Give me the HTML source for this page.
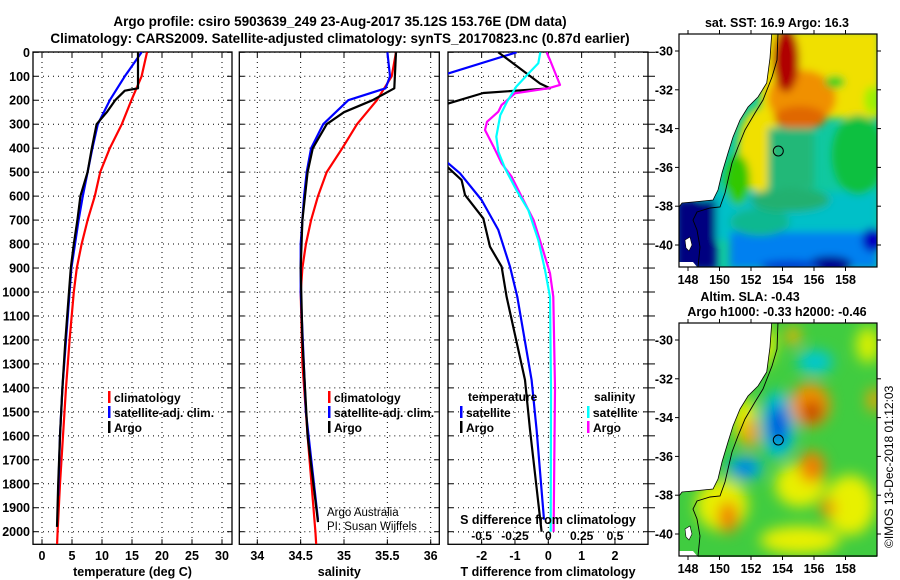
<!DOCTYPE html>
<html><head><meta charset="utf-8"><style>
html,body{margin:0;padding:0;background:#fff;}
svg{display:block;font-family:"Liberation Sans",Arial,sans-serif;}
</style></head><body>
<svg id="chart" width="900" height="580" viewBox="0 0 900 580" xmlns="http://www.w3.org/2000/svg">
<defs>
<clipPath id="c1"><rect x="33" y="52" width="199" height="492"/></clipPath>
<clipPath id="c2"><rect x="239.3" y="52" width="200" height="492"/></clipPath>
<clipPath id="c3"><rect x="448" y="52" width="200" height="492"/></clipPath>
<clipPath id="m1"><rect x="679" y="34" width="198" height="233"/></clipPath>
<clipPath id="m2"><rect x="679" y="323" width="198" height="234"/></clipPath>
<filter id="bl" filterUnits="userSpaceOnUse" x="600" y="0" width="300" height="580"><feGaussianBlur stdDeviation="4"/></filter>
<filter id="bl2" filterUnits="userSpaceOnUse" x="600" y="0" width="300" height="580"><feGaussianBlur stdDeviation="7"/></filter>
</defs>
<text font-weight="bold" x="340" y="26" font-size="13.5" text-anchor="middle">Argo profile: csiro 5903639_249 23-Aug-2017 35.12S 153.76E (DM data)</text>
<text font-weight="bold" x="340" y="43" font-size="13.5" text-anchor="middle">Climatology: CARS2009. Satellite-adjusted climatology: synTS_20170823.nc (0.87d earlier)</text>
<g id="axes"></g>
<g id="maps"></g>
</svg>
<script>
// ---- Data ----
const depthTicks = [0,100,200,300,400,500,600,700,800,900,1000,1100,1200,1300,1400,1500,1600,1700,1800,1900,2000];
const tempTicks = [0,5,10,15,20,25,30];
const salTicks = [34,34.5,35,35.5,36];
const salTickLabels = ["34","34.5","35","35.5","36"];
const dTTicks = [-2,-1,0,1,2];
const dSTicks = [-0.5,-0.25,0,0.25,0.5];
const dSTickLabels = ["-0.5","-0.25","0","0.25","0.5"];

const tempClimDepth = [0,100,200,300,400,500,600,700,800,900,1000,1200,1400,1600,1800,2000,2060];
const tempClim = [17.5,16.6,14.9,13.3,11.3,9.7,8.8,7.6,6.6,5.8,5.3,4.6,4.0,3.5,3.0,2.6,2.5];
const tempSatDepth = [0,100,200,300,400,500,600,700,800,900,1000,1200,1400,1600,1850];
const tempSat = [16.6,13.8,11.3,9.3,8.4,7.6,6.8,6.1,5.5,4.9,4.6,4.0,3.4,3.0,2.7];
const tempArgoDepth = [0,150,160,200,250,300,400,500,600,700,800,900,1000,1200,1400,1600,1800,1980];
const tempArgo = [16.0,16.0,13.8,12.2,10.8,9.1,8.3,7.6,6.4,5.9,5.3,4.8,4.5,3.9,3.4,3.0,2.7,2.5];

const salClimDepth = [0,100,200,300,400,500,600,700,800,900,1000,1300,1600,2000,2060];
const salClim = [35.6,35.55,35.38,35.15,34.98,34.8,34.7,34.62,34.56,34.52,34.5,34.52,34.58,34.67,34.68];
const salSatDepth = [0,100,150,200,300,400,500,600,800,1000,1500,1950];
const salSat = [35.5,35.53,35.48,35.05,34.76,34.62,34.57,34.54,34.5,34.5,34.56,34.7];
const salArgoDepth = [0,150,200,250,300,400,500,700,900,1200,1600,1960];
const salArgo = [35.6,35.58,35.33,35.0,34.8,34.64,34.58,34.52,34.5,34.52,34.58,34.7];

const dTArgoDepth = [0,130,150,170,222,456,533,595,693,811,894,1020,1367,1575,2000];
const dTArgo = [-1.5,-0.25,0.05,-1.95,-3.2,-3.2,-2.6,-2.5,-1.95,-1.75,-1.4,-1.25,-0.7,-0.55,-0.2];
const dTSatDepth = [0,88,100,450,463,505,616,741,894,1020,1367,1575,1950];
const dTSat = [-0.95,-3,-3.3,-3.3,-3.0,-2.65,-2.0,-1.5,-1.15,-0.93,-0.5,-0.35,-0.13];
const dSArgoDepth = [0,32,136,150,171,220,248,290,324,394,463,519,602,700,825,922,1020,1400,2000];
const dSArgo = [-0.0125,0.0125,0.0875,0,-0.25,-0.35,-0.375,-0.46,-0.475,-0.41,-0.35,-0.275,-0.2,-0.11,-0.04,0.0125,0.0375,0.05,0.04];
const dSSatDepth = [0,46,95,143,206,262,352,414,484,574,658,783,908,1020,1400,2000];
const dSSat = [-0.06,-0.075,-0.16,-0.24,-0.31,-0.36,-0.39,-0.375,-0.325,-0.24,-0.15,-0.075,-0.025,0.0125,0.02,0.018];

const lonTicks = [148,150,152,154,156,158];
const latTicks = [-30,-32,-34,-36,-38,-40];

// ---- scales ----
const NS = "http://www.w3.org/2000/svg";
const yD = d => 52.3 + d*0.2397;
const xT = t => 42 + t*6;
const xS = s => 257.3 + (s-34)*86.7;
const xDT = t => 548.3 + t*33.33;
const xDS = s => 548.3 + s*133.33;
const xLon = l => 688 + (l-148)*15.75;
const yLat = (l,off) => 51 + (-30-l)*19.4 + off;

const root = document.getElementById('axes');
const mroot = document.getElementById('maps');
function mk(tag, attrs, parent){
  const e = document.createElementNS(NS, tag);
  for (const k in attrs) e.setAttribute(k, attrs[k]);
  (parent||root).appendChild(e);
  return e;
}
function txt(s, x, y, size, anchor, parent, bold){
  const t = mk('text', {x:x, y:y, 'font-size':size, 'text-anchor':anchor||'middle'}, parent);
  if (bold!==false) t.setAttribute('font-weight','bold');
  t.textContent = s;
  return t;
}

const panels = [
 {x0:33, x1:232, xticks:tempTicks, xf:xT, labels:tempTicks.map(String), title:'temperature (deg C)', name:'temperature'},
 {x0:239.3, x1:439.3, xticks:salTicks, xf:xS, labels:salTickLabels, title:'salinity', name:'salinity'},
 {x0:448, x1:648, xticks:dTTicks, xf:xDT, labels:dTTicks.map(String), title:'T difference from climatology', name:'difference'}
];
const yTop = 52, yBot = 544.3;

panels.forEach((p, i) => {
  const g = mk('g', {});
  
  
  depthTicks.forEach(d => {
    const l = mk('line', {x1:p.x0, x2:p.x1, y1:yD(d), y2:yD(d), stroke:'#000', 'stroke-width':1, 'stroke-dasharray':'1,4'}, g);
    
    
    mk('line', {x1:p.x0, x2:p.x0+5, y1:yD(d), y2:yD(d), stroke:'#000'}, g);
    mk('line', {x1:p.x1, x2:p.x1-5, y1:yD(d), y2:yD(d), stroke:'#000'}, g);
  });
  p.xticks.forEach((t, j) => {
    const x = p.xf(t);
    const l = mk('line', {x1:x, x2:x, y1:yTop, y2:yBot, stroke:'#000', 'stroke-dasharray':'1,4'}, g);
    
    
    mk('line', {x1:x, x2:x, y1:yBot, y2:yBot-5, stroke:'#000'}, g);
    mk('line', {x1:x, x2:x, y1:yTop, y2:yTop+5, stroke:'#000'}, g);
    const lb = txt(p.labels[j], x, 560, 12.5, 'middle', g);
    
    
  });
  const fr = mk('rect', {x:p.x0, y:yTop, width:p.x1-p.x0, height:yBot-yTop, fill:'none', stroke:'#000', 'stroke-width':1.3}, g);
  
  
  const at = txt(p.title, (p.x0+p.x1)/2, 576, 12.5, 'middle', g);
  
  
});
depthTicks.forEach(d => { mk('line', {x1:648, x2:655, y1:yD(d), y2:yD(d), stroke:'#000'}); });

depthTicks.forEach(d => {
  const t = txt(String(d), 30, yD(d)+4.5, 12.5, 'end');
  
  
});

mk('line', {x1:448, x2:648, y1:532, y2:532, stroke:'#000', 'stroke-dasharray':'1,4'});
dSTicks.forEach((s, j) => {
  const t = txt(dSTickLabels[j], xDS(s), 540, 12, 'middle');
  
  
});

function series(xs, ds, xf, color, clip, name, w){
  const pts = xs.map((v,i) => xf(v).toFixed(1)+','+yD(ds[i]).toFixed(1)).join(' ');
  const pl = mk('polyline', {points:pts, fill:'none', stroke:color, 'stroke-width':w||2.2, 'clip-path':'url(#'+clip+')', 'stroke-linejoin':'round'});
  
  
}
series(tempClim, tempClimDepth, xT, '#ff0000', 'c1', 'temp-climatology-line');
series(tempSat, tempSatDepth, xT, '#0000ff', 'c1', 'temp-satellite-line');
series(tempArgo, tempArgoDepth, xT, '#000000', 'c1', 'temp-argo-line');
series(salClim, salClimDepth, xS, '#ff0000', 'c2', 'sal-climatology-line');
series(salSat, salSatDepth, xS, '#0000ff', 'c2', 'sal-satellite-line');
series(salArgo, salArgoDepth, xS, '#000000', 'c2', 'sal-argo-line');
series(dTSat, dTSatDepth, xDT, '#0000ff', 'c3', 'tdiff-satellite-line');
series(dTArgo, dTArgoDepth, xDT, '#000000', 'c3', 'tdiff-argo-line');
series(dSArgo, dSArgoDepth, xDS, '#ff00ff', 'c3', 'sdiff-argo-line');
series(dSSat, dSSatDepth, xDS, '#00ffff', 'c3', 'sdiff-satellite-line');

const st = txt('S difference from climatology', 548, 524, 12.5, 'middle');



function legend(x, y, color, label, name){
  const g = mk('g', {});
  
  
  mk('rect', {x:x, y:y-10, width:2.5, height:12, fill:color}, g);
  txt(label, x+6, y+1, 12, 'start', g);
}
legend(108, 401, '#ff0000', 'climatology', 'legend-entry-climatology');
legend(108, 416, '#0000ff', 'satellite-adj. clim.', 'legend-entry-satellite');
legend(108, 431, '#000000', 'Argo', 'legend-entry-argo');
legend(328, 401, '#ff0000', 'climatology', 'legend-entry-climatology-sal');
legend(328, 416, '#0000ff', 'satellite-adj. clim.', 'legend-entry-satellite-sal');
legend(328, 431, '#000000', 'Argo', 'legend-entry-argo-sal');
const lt = txt('temperature', 468, 401, 12, 'start');


legend(460, 416, '#0000ff', 'satellite', 'legend-entry-temp-satellite');
legend(460, 431, '#000000', 'Argo', 'legend-entry-temp-argo');
const ls = txt('salinity', 594, 401, 12, 'start');


legend(587, 416, '#00ffff', 'satellite', 'legend-entry-sal-satellite');
legend(587, 431, '#ff00ff', 'Argo', 'legend-entry-sal-argo');
const cr1 = txt('Argo Australia', 327, 516, 11.5, 'start', null, false);


const cr2 = txt('PI: Susan Wijffels', 327, 530, 11.5, 'start', null, false);



// ---- maps ----
const landPts = [[679,34],[771.7,34],[770,58],[766.7,83],[758,97],[748,107],[740,120],[733,137],[728,153],[722,173],[718,190],[713,200],[693,202],[682,203],[679,207]];
const isoPts = [[778,33],[777,60],[772,77],[763,100],[755,113],[745,130],[738,147],[732,163],[728,180],[725,193],[720,207],[710,208],[697,212],[693,220],[697,230],[700,247],[698,267]];
const sstBlobs = [
 ['rect',700,192,177,48,'#00c0c8'],['rect',730,232,147,36,'#0080f0'],['ell',760,222,30,14,'#10b890'],
 ['rect',760,30,120,88,'#f0e000'],['ell',760,150,22,42,'#f0e000'],['ell',738,180,12,25,'#30c800'],
 ['ell',802,98,34,28,'#f09000'],['ell',786,60,13,32,'#b00000'],['ell',800,118,26,12,'#e06800'],
 ['ell',835,82,10,6,'#20d020'],['ell',872,100,8,14,'#a0f000'],['ell',858,155,26,40,'#10c040'],
 ['rect',768,128,46,60,'#20b878'],['ell',790,200,40,12,'#20b070'],['ell',830,264,22,8,'#000090'],['ell',872,240,10,12,'#0000c0'],
 ['rect',676,200,40,70,'#000080'],['ell',790,266,30,6,'#0040d0']
];
const slaBlobs = [
 ['ell',760,345,15,22,'#e8f000'],['ell',745,420,12,22,'#e8f000'],['ell',722,505,26,26,'#e8f000'],
 ['ell',800,485,25,22,'#e8f000'],['ell',850,505,25,30,'#e8f000'],['ell',868,345,12,18,'#d8f000'],
 ['ell',800,540,40,14,'#e8f000'],['ell',700,385,20,40,'#a0f040'],
 ['ell',778,425,18,34,'#00c0d0'],['ell',778,425,9,20,'#0040e0'],['ell',745,468,18,12,'#00b0e0'],['ell',745,468,9,6,'#0060e0'],
 ['ell',815,362,18,12,'#00c8d0'],['ell',810,405,20,22,'#f09000'],['ell',812,412,9,11,'#c03000'],
 ['ell',812,467,13,16,'#f08000'],['ell',750,433,9,15,'#f0a000'],['ell',728,517,10,16,'#f08000'],
 ['ell',793,336,7,10,'#f0b000'],['ell',828,508,8,9,'#f09000'],['ell',874,400,7,12,'#f0a000']
];
function drawMap(off, clip, blobs, base, name, titleLines, filt){
  const g = mk('g', {}, mroot);
  
  
  const inner = mk('g', {'clip-path':'url(#'+clip+')'}, g);
  mk('rect', {x:679, y:34+off, width:198, height:234, fill:base}, inner);
  const bg = mk('g', {filter:'url(#'+filt+')'}, inner);
  blobs.forEach(b => {
    if (b[0]==='rect') mk('rect', {x:b[1], y:b[2]+off, width:b[3], height:b[4], fill:b[5]}, bg);
    else mk('ellipse', {cx:b[1], cy:b[2], rx:b[3], ry:b[4], fill:b[5]}, bg);
  });
  mk('polygon', {points:landPts.map(p=>p[0]+','+(p[1]+off)).join(' '), fill:'#fff', stroke:'#000', 'stroke-width':0.8}, inner);
  mk('polygon', {points:'679,'+(262+off)+' 693,'+(262+off)+' 698,'+(268+off)+' 679,'+(268+off), fill:'#fff'}, inner);
  mk('polygon', {points:'685,'+(240+off)+' 690,'+(237+off)+' 692,'+(245+off)+' 689,'+(251+off)+' 686,'+(248+off), fill:'#fff', stroke:'#000', 'stroke-width':0.6}, inner);
  mk('polyline', {points:isoPts.map(p=>p[0]+','+(p[1]+off)).join(' '), fill:'none', stroke:'#000', 'stroke-width':0.9}, inner);
  const mark = mk('circle', {cx:778.3, cy:151+off, r:5, fill:'none', stroke:'#000', 'stroke-width':1}, g);
  
  
  mk('rect', {x:679, y:34+off, width:198, height:233, fill:'none', stroke:'#000', 'stroke-width':1.2}, g);
  lonTicks.forEach(l => {
    const x = xLon(l);
    mk('line', {x1:x, x2:x, y1:34+off, y2:30+off, stroke:'#000'}, g);
    mk('line', {x1:x, x2:x, y1:267+off, y2:271+off, stroke:'#000'}, g);
    const t = txt(String(l), x, 284+off, 12.5, 'middle', g);
    
    
  });
  latTicks.forEach(l => {
    const y = yLat(l, off);
    mk('line', {x1:679, x2:675, y1:y, y2:y, stroke:'#000'}, g);
    mk('line', {x1:877, x2:881, y1:y, y2:y, stroke:'#000'}, g);
    const t = txt(String(l), 673, y+4.5, 12.5, 'end', g);
    
    
  });
  titleLines.forEach(tl => {
    const t = txt(tl[0], tl[1], tl[2], 12.5, 'middle', g);
    
    
  });
}
drawMap(0, 'm1', sstBlobs, '#10c8a0', 'sst-map', [['sat. SST: 16.9 Argo: 16.3', 777, 27]], 'bl');
drawMap(289, 'm2', slaBlobs, '#40cc40', 'sla-map', [['Altim. SLA: -0.43', 750, 301], ['Argo h1000: -0.33 h2000: -0.46', 777, 316]], 'bl2');
const cp = mk('text', {x:0, y:0, 'font-size':12, transform:'translate(893,548) rotate(-90)'}, mroot);
cp.textContent = '©IMOS 13-Dec-2018 01:12:03';


</script>
</body></html>
